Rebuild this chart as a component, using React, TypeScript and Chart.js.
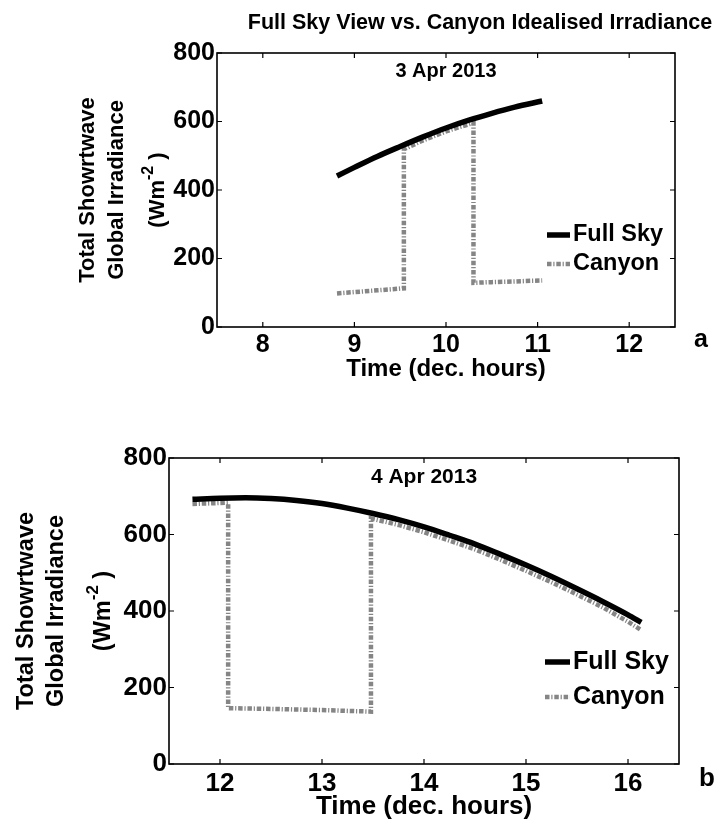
import React, { useEffect, useRef } from 'react';
import { Chart, registerables } from 'chart.js';
Chart.register(...registerables);

const FONT = '"Liberation Sans", Arial, Helvetica, sans-serif';

// ---- Data ----
const xTicksA = [8, 9, 10, 11, 12];
const xTicksB = [12, 13, 14, 15, 16];
const yTicks = [0, 200, 400, 600, 800];

const fullSkyA_x = [8.81, 9.0, 9.25, 9.5, 9.75, 10.0, 10.25, 10.5, 10.75, 11.05];
const fullSkyA_y = [441, 466, 498, 527, 555, 581, 604, 624, 642, 660];
const canyonA_x = [8.81, 9.0, 9.25, 9.54, 9.54, 9.75, 10.0, 10.15, 10.3, 10.3, 10.5, 10.75, 11.05];
const canyonA_y = [98, 102, 107, 113, 519, 545, 571, 584, 596, 129, 131, 133, 136];

const fullSkyB_x = [11.73, 12.0, 12.25, 12.5, 12.75, 13.0, 13.25, 13.5, 13.75, 14.0, 14.25, 14.5, 14.75, 15.0, 15.25, 15.5, 15.75, 16.0, 16.13];
const fullSkyB_y = [692, 695, 696, 694, 689, 681, 669, 655, 639, 620, 598, 575, 548, 520, 490, 458, 425, 390, 370];
const canyonB_x = [11.73, 12.08, 12.08, 12.5, 13.0, 13.48, 13.48, 13.75, 14.0, 14.25, 14.5, 14.75, 15.0, 15.25, 15.5, 15.75, 16.0, 16.13];
const canyonB_y = [680, 683, 146, 144, 141, 137, 642, 625, 606, 584, 561, 534, 505, 475, 443, 410, 372, 350];

const seriesNames = ['Full Sky', 'Canyon'];
const yTitleLines = ['Total Showrtwave', 'Global Irradiance'];
const xTitle = 'Time (dec. hours)';
const figTitle = 'Full Sky View vs. Canyon Idealised Irradiance';

const CANYON_COLOR = '#858585';
const CANYON_DASH = [4.5, 1.8, 1.2, 1.8];

function pts(xs: number[], ys: number[]) {
  return xs.map((x, i) => ({ x, y: ys[i] }));
}

type P = {
  W: number; H: number;
  plotLeft: number; plotRight: number; plotTop: number; plotBottom: number;
  xMin: number; xMax: number; xTicks: number[];
  full: { x: number; y: number }[]; canyon: { x: number; y: number }[];
  tickFont: number; xTickPad: number; legendFont: number; yTitleFont: number; xTitleFont: number; annotFont: number; letterFont: number;
  yTitleX: number[]; xTitleY: number;
  legendX0: number; legendX1: number; legendTextX: number; legendY: number[];
  annot: string; annotX: number; annotY: number;
  letter: string; letterX: number; letterY: number;
  title?: string; titleX?: number; titleY?: number; titleFont?: number;
};

function makeConfig(p: P): any {
  const plugin = {
    id: 'decor',
    afterDraw(chart: any) {
      const ctx = chart.ctx;
      const a = chart.chartArea;
      const xs = chart.scales.x;
      const ys = chart.scales.y;
      ctx.save();
      // box
      ctx.strokeStyle = '#000';
      ctx.lineWidth = 1.6;
      ctx.strokeRect(a.left, a.top, a.right - a.left, a.bottom - a.top);
      // inside ticks
      ctx.lineWidth = 1.2;
      ctx.beginPath();
      p.xTicks.forEach((v) => {
        const px = xs.getPixelForValue(v);
        ctx.moveTo(px, a.bottom); ctx.lineTo(px, a.bottom - 5);
        ctx.moveTo(px, a.top); ctx.lineTo(px, a.top + 5);
      });
      yTicks.forEach((v) => {
        const py = ys.getPixelForValue(v);
        ctx.moveTo(a.left, py); ctx.lineTo(a.left + 5, py);
        ctx.moveTo(a.right, py); ctx.lineTo(a.right - 5, py);
      });
      ctx.stroke();

      // legend
      ctx.lineCap = 'butt';
      ctx.strokeStyle = '#000';
      ctx.lineWidth = 5.5;
      ctx.setLineDash([]);
      ctx.beginPath();
      ctx.moveTo(p.legendX0, p.legendY[0]); ctx.lineTo(p.legendX1, p.legendY[0]);
      ctx.stroke();
      ctx.strokeStyle = CANYON_COLOR;
      ctx.lineWidth = 4.5;
      ctx.setLineDash(CANYON_DASH);
      ctx.beginPath();
      ctx.moveTo(p.legendX0, p.legendY[1]); ctx.lineTo(p.legendX1, p.legendY[1]);
      ctx.stroke();
      ctx.setLineDash([]);
      ctx.fillStyle = '#000';
      ctx.font = `bold ${p.legendFont}px ${FONT}`;
      ctx.textAlign = 'left';
      ctx.textBaseline = 'middle';
      ctx.fillText(seriesNames[0], p.legendTextX, p.legendY[0]);
      ctx.fillText(seriesNames[1], p.legendTextX, p.legendY[1]);

      // annotation
      ctx.font = `bold ${p.annotFont}px ${FONT}`;
      ctx.textAlign = 'center';
      ctx.fillText(p.annot, xs.getPixelForValue(p.annotX), ys.getPixelForValue(p.annotY));

      // x title
      ctx.font = `bold ${p.xTitleFont}px ${FONT}`;
      ctx.fillText(xTitle, (a.left + a.right) / 2, p.xTitleY);

      // letter
      ctx.font = `bold ${p.letterFont}px ${FONT}`;
      ctx.fillText(p.letter, p.letterX, p.letterY);

      // figure title
      if (p.title) {
        ctx.font = `bold ${p.titleFont}px ${FONT}`;
        ctx.fillText(p.title, p.titleX!, p.titleY!);
      }

      // y title (rotated)
      const cy = (a.top + a.bottom) / 2;
      const f = p.yTitleFont;
      ctx.font = `bold ${f}px ${FONT}`;
      yTitleLines.forEach((t, i) => {
        ctx.save();
        ctx.translate(p.yTitleX[i], cy);
        ctx.rotate(-Math.PI / 2);
        ctx.textAlign = 'center';
        ctx.fillText(t, 0, 0);
        ctx.restore();
      });
      // third line with superscript
      ctx.save();
      ctx.translate(p.yTitleX[2], cy);
      ctx.rotate(-Math.PI / 2);
      ctx.textAlign = 'left';
      const mainFont = `bold ${f}px ${FONT}`;
      const supFont = `bold ${Math.round(f * 0.72)}px ${FONT}`;
      ctx.font = mainFont;
      const w1 = ctx.measureText('(Wm').width;
      const w3 = ctx.measureText(' )').width;
      ctx.font = supFont;
      const w2 = ctx.measureText('-2').width;
      const x0 = -(w1 + w2 + w3) / 2;
      ctx.font = mainFont;
      ctx.fillText('(Wm', x0, 0);
      ctx.font = supFont;
      ctx.fillText('-2', x0 + w1, -f * 0.45);
      ctx.font = mainFont;
      ctx.fillText(' )', x0 + w1 + w2, 0);
      ctx.restore();

      ctx.restore();
    },
  };

  const tickFont = { family: FONT, size: p.tickFont, weight: 'bold' as const };
  return {
    type: 'line',
    data: {
      datasets: [
        {
          label: seriesNames[0],
          data: p.full,
          borderColor: '#000',
          borderWidth: 5.5,
          pointRadius: 0,
          cubicInterpolationMode: 'monotone',
          fill: false,
          order: 1,
        },
        {
          label: seriesNames[1],
          data: p.canyon,
          borderColor: CANYON_COLOR,
          borderWidth: 4.5,
          borderDash: CANYON_DASH,
          borderCapStyle: 'butt',
          pointRadius: 0,
          tension: 0,
          fill: false,
          order: 2,
        },
      ],
    },
    options: {
      responsive: false,
      animation: false,
      devicePixelRatio: 1,
      layout: {
        padding: { left: 0, top: p.plotTop, right: p.W - p.plotRight, bottom: 0 },
      },
      plugins: { legend: { display: false }, tooltip: { enabled: false }, title: { display: false } },
      scales: {
        x: {
          type: 'linear',
          min: p.xMin,
          max: p.xMax,
          grid: { display: false, drawTicks: false },
          border: { display: false },
          afterBuildTicks: (axis: any) => { axis.ticks = p.xTicks.map((v) => ({ value: v })); },
          afterFit: (axis: any) => { axis.height = p.H - p.plotBottom; },
          ticks: { font: tickFont, color: '#000', padding: p.xTickPad, maxRotation: 0, autoSkip: false },
        },
        y: {
          type: 'linear',
          min: 0,
          max: 800,
          grid: { display: false, drawTicks: false },
          border: { display: false },
          afterBuildTicks: (axis: any) => { axis.ticks = yTicks.map((v) => ({ value: v })); },
          afterFit: (axis: any) => { axis.width = p.plotLeft; },
          ticks: { font: tickFont, color: '#000', padding: 2, autoSkip: false },
        },
      },
    },
    plugins: [plugin],
  };
}

const paramsA: P = {
  W: 715, H: 395,
  plotLeft: 217, plotRight: 675, plotTop: 53, plotBottom: 327,
  xMin: 7.5, xMax: 12.5, xTicks: xTicksA,
  full: pts(fullSkyA_x, fullSkyA_y), canyon: pts(canyonA_x, canyonA_y),
  tickFont: 25, xTickPad: 3, legendFont: 23.5, yTitleFont: 22, xTitleFont: 24, annotFont: 20, letterFont: 25,
  yTitleX: [88, 117, 158], xTitleY: 369,
  legendX0: 547, legendX1: 570, legendTextX: 573, legendY: [235, 264],
  annot: '3 Apr 2013', annotX: 10, annotY: 745,
  letter: 'a', letterX: 701, letterY: 340,
  title: figTitle, titleX: 480, titleY: 23, titleFont: 21.5,
};

const paramsB: P = {
  W: 715, H: 430,
  plotLeft: 169, plotRight: 679, plotTop: 63, plotBottom: 369,
  xMin: 11.5, xMax: 16.5, xTicks: xTicksB,
  full: pts(fullSkyB_x, fullSkyB_y), canyon: pts(canyonB_x, canyonB_y),
  tickFont: 26, xTickPad: 4, legendFont: 25, yTitleFont: 23.5, xTitleFont: 26, annotFont: 21, letterFont: 26,
  yTitleX: [27, 57, 104], xTitleY: 412,
  legendX0: 545, legendX1: 570, legendTextX: 573, legendY: [267, 302],
  annot: '4 Apr 2013', annotX: 14, annotY: 750,
  letter: 'b', letterX: 707, letterY: 384,
};

function Panel({ p, top }: { p: P; top: number }) {
  const ref = useRef<HTMLCanvasElement | null>(null);
  useEffect(() => {
    if (!ref.current) return;
    const chart = new Chart(ref.current, makeConfig(p));
    return () => chart.destroy();
  }, []);
  return (
    <canvas
      ref={ref}
      width={p.W}
      height={p.H}
      style={{ position: 'absolute', left: 0, top, width: p.W, height: p.H, display: 'block' }}
    />
  );
}

export default function App() {
  return (
    <div style={{ position: 'absolute', left: 0, top: 0, width: 715, height: 825, background: '#fff', overflow: 'hidden' }}>
      <Panel p={paramsA} top={0} />
      <Panel p={paramsB} top={395} />
    </div>
  );
}
